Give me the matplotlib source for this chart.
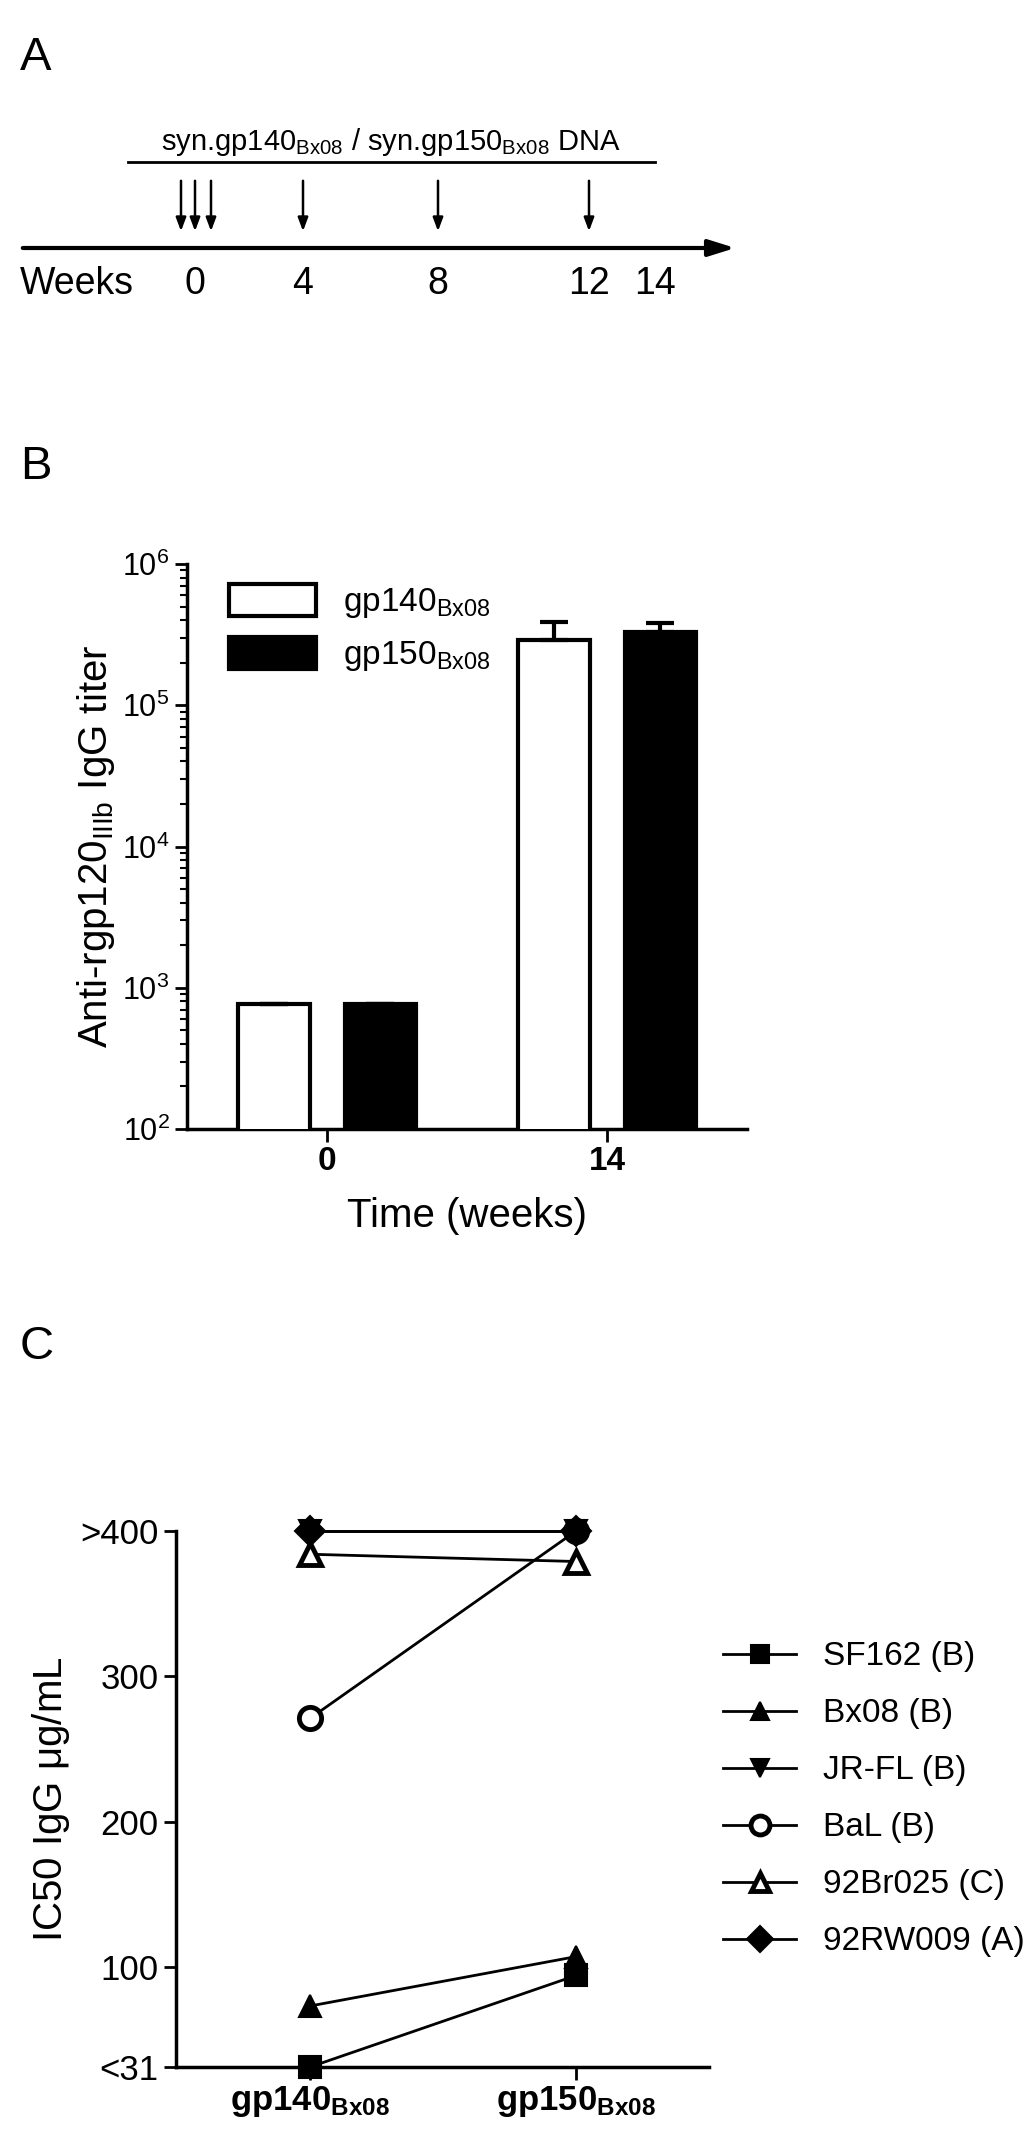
import numpy as np
import matplotlib.pyplot as plt
from matplotlib.patches import Patch

plt.rcParams['font.family'] = 'Liberation Sans'
plt.rcParams['mathtext.default'] = 'regular'

W, H = 1024, 2153

# panel A: schedule
week_labels = ['0', '4', '8', '12', '14']
week_pos = [195, 303, 438, 589, 655]          # pixel x of labels
dose_pos = [181, 195, 211, 303, 438, 589]     # pixel x of arrows

# panel B: titers
b_groups = ['0', '14']
gp140_titer = [770, 2.9e5]
gp140_err = [0, 1.0e5]
gp150_titer = [770, 3.3e5]
gp150_err = [0, 0.5e5]

# panel C: IC50
c_groups = [r'gp140$_{Bx08}$', r'gp150$_{Bx08}$']
strains = ['SF162 (B)', 'Bx08 (B)', 'JR-FL (B)', 'BaL (B)', '92Br025 (C)', '92RW009 (A)']
ic50 = {
    'SF162 (B)': [31, 94],
    'Bx08 (B)': [73, 107],
    'JR-FL (B)': [400, 400],
    'BaL (B)': [271, 400],
    '92Br025 (C)': [384, 379],
    '92RW009 (A)': [400, 400],
}
markers = {
    'SF162 (B)': ('s', 'k'),
    'Bx08 (B)': ('^', 'k'),
    'JR-FL (B)': ('v', 'k'),
    'BaL (B)': ('o', 'w'),
    '92Br025 (C)': ('^', 'w'),
    '92RW009 (A)': ('D', 'k'),
}


def px_axes(fig, left, top, right, bottom):
    return fig.add_axes([left / W, 1 - bottom / H, (right - left) / W, (bottom - top) / H])


fig = plt.figure(figsize=(W / 100, H / 100), dpi=100)

# ---- panel A ----
axA = fig.add_axes([0, 0, 1, 1])
axA.set_xlim(0, W)
axA.set_ylim(H, 0)
axA.axis('off')
axA.text(20, 58, 'A', fontsize=34, va='center', ha='left')
axA.annotate('', xy=(738, 248), xytext=(20, 248),
             arrowprops=dict(arrowstyle='-|>,head_length=1.6,head_width=0.5', lw=3, color='k'))
axA.text(20, 284, 'Weeks', fontsize=27, va='center', ha='left')
for x, lab in zip(week_pos, week_labels):
    axA.text(x, 284, lab, fontsize=27, va='center', ha='center')
for x in dose_pos:
    axA.annotate('', xy=(x, 234), xytext=(x, 178),
                 arrowprops=dict(arrowstyle='-|>,head_length=0.8,head_width=0.3', lw=1.8, color='k'))
axA.plot([128, 655], [162, 162], color='k', lw=2)
axA.text(391, 142, r'syn.gp140$_{Bx08}$ / syn.gp150$_{Bx08}$ DNA', fontsize=21,
         ha='center', va='center')
axA.text(20, 467, 'B', fontsize=34, va='center', ha='left')
axA.text(20, 1347, 'C', fontsize=34, va='center', ha='left')

# ---- panel B ----
axB = px_axes(fig, 187, 564, 747, 1129)
x = np.arange(len(b_groups))
bw = 0.255
axB.bar(x - 0.19, gp140_titer, bw, color='white', edgecolor='k', lw=3,
        yerr=[np.zeros(2), gp140_err], error_kw=dict(lw=3, capsize=10, capthick=3), zorder=3)
axB.bar(x + 0.19, gp150_titer, bw, color='k', edgecolor='k', lw=3,
        yerr=[np.zeros(2), gp150_err], error_kw=dict(lw=3, capsize=10, capthick=3), zorder=2)
axB.set_yscale('log')
axB.set_ylim(1e2, 1e6)
axB.set_xlim(-0.5, 1.5)
axB.set_xticks(x)
axB.set_xticklabels(b_groups, fontsize=24, fontweight='bold')
axB.set_yticks([1e2, 1e3, 1e4, 1e5, 1e6])
axB.set_yticklabels([r'$10^{%d}$' % k for k in range(2, 7)], fontsize=22)
axB.tick_params(axis='both', width=2, length=9, direction='out')
axB.tick_params(axis='y', which='minor', width=1.5, length=5)
axB.spines['top'].set_visible(False)
axB.spines['right'].set_visible(False)
for s in ['left', 'bottom']:
    axB.spines[s].set_linewidth(2.5)
axB.set_ylabel(r'Anti-rgp120$_{IIIb}$ IgG titer', fontsize=29, labelpad=4)
axB.set_xlabel('Time (weeks)', fontsize=29, labelpad=14)
handles = [Patch(facecolor='white', edgecolor='k', lw=3), Patch(facecolor='k', edgecolor='k', lw=3)]
axB.legend(handles, [r'gp140$_{Bx08}$', r'gp150$_{Bx08}$'], loc='upper left', frameon=False,
           fontsize=24, handlelength=2.6, handleheight=1.1, borderaxespad=0.2,
           bbox_to_anchor=(0.04, 1.0))

# ---- panel C ----
axC = px_axes(fig, 176, 1531, 709, 2067)
xc = np.arange(len(c_groups))
for name in strains:
    m, fc = markers[name]
    ms = 15 if m == 'D' else 16
    axC.plot(xc, ic50[name], color='k', lw=2, marker=m, ms=ms, mfc=fc, mec='k',
             mew=3.5 if fc == 'w' else 1.5, label=name, clip_on=False, zorder=3)
axC.set_xlim(-0.504, 1.5)
axC.set_ylim(31, 400)
axC.set_xticks(xc)
axC.set_xticklabels(c_groups, fontsize=25, fontweight='bold')
axC.set_yticks([31, 100, 200, 300, 400])
axC.set_yticklabels(['<31', '100', '200', '300', '>400'], fontsize=25)
axC.tick_params(axis='both', width=2, length=9, direction='out')
axC.spines['top'].set_visible(False)
axC.spines['right'].set_visible(False)
for s in ['left', 'bottom']:
    axC.spines[s].set_linewidth(2.5)
axC.set_ylabel(r'IC50 IgG $\mu$g/mL', fontsize=29, labelpad=6)
axC.legend(loc='upper left', bbox_to_anchor=(0.97, 0.85), frameon=False, fontsize=24,
           handlelength=2.2, labelspacing=0.78, markerscale=0.85)

fig.savefig('out.png', dpi=100)
